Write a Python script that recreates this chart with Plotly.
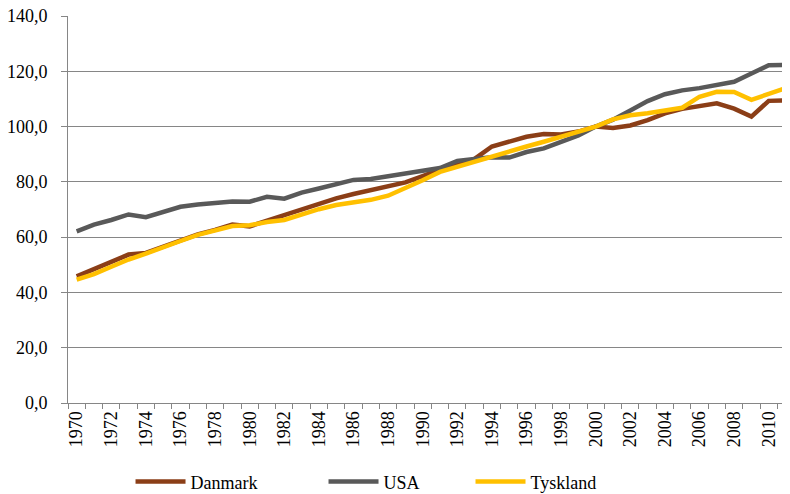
import plotly.graph_objects as go

years = list(range(1970, 2012))

danmark = [45.8, 48.3, 51.0, 53.7, 54.3, 56.5, 58.8, 61.0, 62.6, 64.6, 63.9, 66.0, 67.8, 70.1, 72.2, 74.0,
           75.6, 76.9, 78.3, 79.8, 82.1, 84.5, 86.1, 88.3, 92.8, 94.4, 96.3, 97.3, 97.1, 98.2, 100.0,
           99.5, 100.4, 102.3, 104.8, 106.4, 107.6, 108.4, 106.5, 103.6, 109.3, 109.5]
usa = [62.1, 64.5, 66.2, 68.2, 67.2, 69.1, 71.0, 71.8, 72.5, 72.9, 72.8, 74.6, 73.9, 76.1, 77.6, 79.1,
       80.7, 81.0, 81.9, 82.7, 84.0, 85.0, 87.6, 88.3, 88.9, 88.8, 90.8, 92.1, 94.3, 96.8, 100.0,
       102.5, 105.8, 109.2, 111.7, 113.1, 113.9, 115.1, 116.2, 119.2, 122.2, 122.3]
tyskland = [44.6, 46.6, 49.3, 51.9, 54.0, 56.1, 58.6, 60.8, 62.2, 64.0, 64.3, 65.5, 66.2, 68.3, 70.1, 71.6,
            72.4, 73.5, 75.0, 77.6, 80.6, 83.6, 85.5, 87.1, 89.4, 91.2, 92.8, 94.5, 96.2, 97.9, 100.0,
            102.6, 104.1, 104.8, 105.6, 106.8, 110.8, 112.6, 112.5, 109.7, 111.8, 113.9]

names = ['Danmark', 'USA', 'Tyskland']
colors = ['#8B3E17', '#595959', '#FFC000']
series = [danmark, usa, tyskland]

serif = 'Liberation Serif'

fig = go.Figure()
for i, (n, vals, c) in enumerate(zip(names, series, colors)):
    fig.add_trace(go.Scatter(x=years, y=vals, mode='lines', name=n,
                             line=dict(color=c, width=4.5),
                             legend='legend' if i == 0 else 'legend%d' % (i + 1)))

# each legend entry placed on its own, like the original
# yref container so the legends don't push the bottom margin
leg = dict(orientation='h', yanchor='middle', yref='container', y=0.025,
           xanchor='left',
           font=dict(family=serif, size=18, color='#000000'),
           bgcolor='rgba(0,0,0,0)', itemwidth=50, visible=True)

xdict = dict(range=[1969.5, 2011.23], tickmode='array',
             tickvals=years[::2], ticktext=[str(y) for y in years[::2]],
             tickangle=-90, ticks='', showgrid=False, automargin=False,
             showline=True, linecolor='#868686', linewidth=1,
             ticklabeloverflow='allow',
             minor=dict(ticks='outside', tick0=1969.5, dtick=1, ticklen=5,
                        tickcolor='#868686', showgrid=False),
             tickfont=dict(family=serif, size=18, color='#000000'))
ydict = dict(range=[0, 140], dtick=20, tickformat='.1f', automargin=False,
             showgrid=True, gridcolor='#868686', gridwidth=1,
             showline=True, linecolor='#868686', linewidth=1,
             ticks='outside', ticklen=6, tickcolor='#868686',
             ticklabelstandoff=10, zeroline=False, ticklabeloverflow='allow',
             tickfont=dict(family=serif, size=18, color='#000000'))

# page body has an 8px margin, so the figure is sized to fill the rest
fig.update_layout(width=782, height=486,
                  margin=dict(l=60, r=0, t=8, b=91),
                  plot_bgcolor='white', paper_bgcolor='white',
                  separators=', ', showlegend=True,
                  xaxis=xdict, yaxis=ydict,
                  legend=dict(leg, x=0.0866),
                  legend2=dict(leg, x=0.3539),
                  legend3=dict(leg, x=0.5575))

fig.write_html("out.html")
